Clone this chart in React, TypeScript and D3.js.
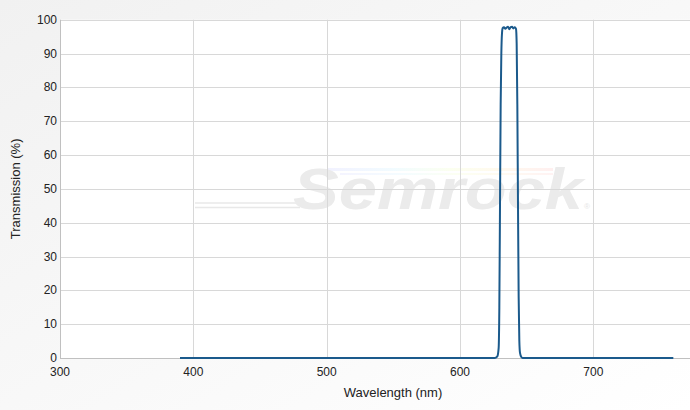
import * as d3 from "d3"

// wavelength (nm) and transmission (%)
const wavelengths = [
  390, 450, 500, 550, 600, 620, 626, 628, 629, 629.5, 630, 630.5, 631, 631.5, 632,
  633, 634, 635, 636, 637, 638, 639, 640, 641, 642, 642.5, 643, 643.5, 644, 644.5,
  645, 646, 647, 660, 700, 760,
]
const transmission = [
  0, 0, 0, 0, 0, 0, 0, 0.5, 3, 15, 45, 75, 90, 96, 97.5,
  97.8, 97.3, 97.7, 97.9, 97.2, 97.8, 97.9, 97.4, 97.8, 97.3, 93, 75, 45, 18, 5,
  1.5, 0.3, 0, 0, 0, 0,
]
const xTicks = [300, 400, 500, 600, 700]
const yTicks = [0, 10, 20, 30, 40, 50, 60, 70, 80, 90, 100]

const W = 690
const H = 410
const margin = { top: 20, right: 0, bottom: 52, left: 60 }
const font = "'Liberation Sans', Arial, sans-serif"

export default function App() {
  const x = d3.scaleLinear().domain([300, 772.5]).range([margin.left, W - margin.right])
  const y = d3.scaleLinear().domain([0, 100]).range([358, 19.7])

  const points = wavelengths.map((w, i) => [w, transmission[i]] as [number, number])
  const line = d3
    .line<[number, number]>()
    .x((d) => x(d[0]))
    .y((d) => y(d[1]))
    .curve(d3.curveMonotoneX)

  const plotTop = y(100)
  const plotBottom = y(0)

  return (
    <svg
      width={W}
      height={H}
      style={{ position: "absolute", left: 0, top: 0, fontFamily: font }}
    >
      <defs>
        <linearGradient id="bg" x1="0" y1="0" x2="1" y2="1">
          <stop offset="0" stopColor="#f1f1f1" />
          <stop offset="1" stopColor="#ffffff" />
        </linearGradient>
        <linearGradient id="rainbow" x1="0" y1="0" x2="1" y2="0">
          <stop offset="0" stopColor="#e4e4ff" />
          <stop offset="0.3" stopColor="#e4f8ff" />
          <stop offset="0.55" stopColor="#f8ffe0" />
          <stop offset="0.75" stopColor="#fff4dc" />
          <stop offset="1" stopColor="#ffe0e0" />
        </linearGradient>
      </defs>
      <rect width={W} height={H} fill="url(#bg)" />
      <rect
        x={margin.left}
        y={plotTop}
        width={W - margin.left - margin.right}
        height={plotBottom - plotTop}
        fill="#ffffff"
      />

      {/* watermark */}
      <g>
        <rect x={327} y={168} width={226} height={3} fill="url(#rainbow)" opacity={0.5} />
        <rect x={340} y={173} width={213} height={2} fill="url(#rainbow)" opacity={0.4} />
        <line x1={195} x2={305} y1={203} y2={203} stroke="#e8e8e8" strokeWidth={1.5} />
        <line x1={195} x2={300} y1={207.5} y2={207.5} stroke="#e8e8e8" strokeWidth={1.5} />
        <text
          x={293}
          y={209}
          fontSize={58}
          fontWeight="bold"
          fontStyle="italic"
          fill="#ebebeb"
          textLength={290}
          lengthAdjust="spacingAndGlyphs"
        >
          Semrock
        </text>
        <text x={584} y={209} fontSize={8} fill="#e6e6e6">
          ®
        </text>
      </g>

      {/* grid */}
      {yTicks.map((t) => (
        <line
          key={`gy${t}`}
          x1={margin.left}
          x2={W - margin.right}
          y1={Math.round(y(t)) + 0.5}
          y2={Math.round(y(t)) + 0.5}
          stroke={t === 0 ? "#c0c0c0" : "#d8d8d8"}
        />
      ))}
      {xTicks.map((t) => (
        <line
          key={`gx${t}`}
          x1={Math.round(x(t)) + 0.5}
          x2={Math.round(x(t)) + 0.5}
          y1={plotTop}
          y2={plotBottom}
          stroke={t === 300 ? "#c0c0c0" : "#d8d8d8"}
        />
      ))}

      {/* series */}
      <path d={line(points) ?? ""} fill="none" stroke="#1b5a8c" strokeWidth={2} />

      {/* axes labels */}
      {yTicks.map((t) => (
        <text
          key={`ly${t}`}
          x={57}
          y={y(t) + 4}
          textAnchor="end"
          fontSize={12}
          fill="#222"
        >
          {t}
        </text>
      ))}
      {xTicks.map((t) => (
        <text
          key={`lx${t}`}
          x={x(t)}
          y={376}
          textAnchor="middle"
          fontSize={12}
          fill="#222"
        >
          {t}
        </text>
      ))}
      <text x={393} y={397} textAnchor="middle" fontSize={13} fill="#222">
        Wavelength (nm)
      </text>
      <text
        transform={`translate(20,${(plotTop + plotBottom) / 2}) rotate(-90)`}
        textAnchor="middle"
        fontSize={13}
        fill="#222"
      >
        Transmission (%)
      </text>
    </svg>
  )
}
